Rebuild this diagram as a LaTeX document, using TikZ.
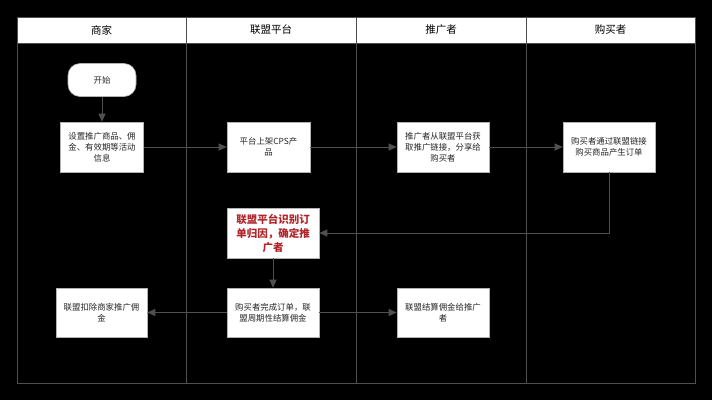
\documentclass[tikz,border=0pt]{standalone}
\usepackage{fontspec}
\setmainfont{Noto Sans CJK SC}
\usetikzlibrary{arrows.meta}
\definecolor{lanegray}{HTML}{4F4F4F}
\definecolor{arrowgray}{HTML}{505050}
\definecolor{redtxt}{HTML}{B0252A}
\tikzset{
  lane/.style={draw=lanegray, line width=1pt},
  header/.style={draw=lanegray, fill=white, line width=1pt},
  htext/.style={font=\fontsize{10.5}{12}\selectfont, text=black},
  box/.style={draw=gray!60, fill=white, line width=0.6pt, align=center, inner sep=0pt,
    font=\fontsize{8.4}{11}\selectfont, text=black!85},
  conn/.style={draw=arrowgray, line width=1pt, -{Triangle[length=8pt,width=7pt]}}
}
\begin{document}
\begin{tikzpicture}[x=1pt,y=-1pt]
\fill[black] (0,0) rectangle (712,400);
\useasboundingbox (0,0) rectangle (712,400);
% lanes
\draw[lane] (17,43) rectangle (695,383);
\foreach \xx in {186,356,526} \draw[lane] (\xx,17) -- (\xx,383);
\draw[header] (17,17) rectangle (186,43);
\draw[header] (186,17) rectangle (356,43);
\draw[header] (356,17) rectangle (526,43);
\draw[header] (526,17) rectangle (695,43);
\node[htext] (h1) at (101.5,30) {商家};
\node[htext] (h2) at (271,30) {联盟平台};
\node[htext] (h3) at (441,30) {推广者};
\node[htext] (h4) at (610.5,30) {购买者};
% nodes
\node[box, rounded corners=12pt, minimum width=68pt, minimum height=33pt] (start) at (102,80) {开始};
\node[box, minimum width=83pt, minimum height=50pt] (set) at (102,147) {设置推广商品、佣\\金、有效期等活动\\信息};
\node[box, minimum width=83pt, minimum height=50pt] (plat) at (268.5,147) {平台上架CPS产\\品};
\node[box, minimum width=92pt, minimum height=50pt] (prom) at (443,147) {推广者从联盟平台获\\取推广链接，分享给\\购买者};
\node[box, minimum width=92pt, minimum height=50pt] (buy) at (609,147) {购买者通过联盟链接\\购买商品产生订单};
\node[box, minimum width=92pt, minimum height=50pt, text=redtxt, font=\fontsize{10.5}{14}\selectfont\bfseries] (attr) at (273,233) {联盟平台识别订\\单归因，确定推\\广者};
\node[box, minimum width=92pt, minimum height=49pt] (done) at (273,312.5) {购买者完成订单，联\\盟周期性结算佣金};
\node[box, minimum width=91pt, minimum height=49pt] (deduct) at (101.5,312.5) {联盟扣除商家推广佣\\金};
\node[box, minimum width=92pt, minimum height=49pt] (settle) at (443,312.5) {联盟结算佣金给推广\\者};
% connectors
\draw[conn] (start) -- (set);
\draw[conn] (set) -- (plat);
\draw[conn] (plat) -- (prom);
\draw[conn] (prom) -- (buy);
\draw[conn] (buy.south) |- (attr.east);
\draw[conn] (attr) -- (done);
\draw[conn] (done) -- (deduct);
\draw[conn] (done) -- (settle);
\end{tikzpicture}
\end{document}
